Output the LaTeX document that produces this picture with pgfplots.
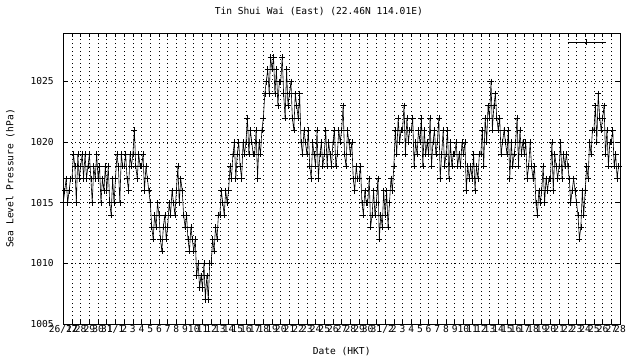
\documentclass[border=0pt]{standalone}
\usepackage{fontspec}
\setmainfont{DejaVu Sans Mono}
\usepackage{pgfplots}
\pgfplotsset{compat=1.18}
\begin{document}
\begin{tikzpicture}[font=\fontsize{9.6}{11}\selectfont]
\path[use as bounding box] (-63.3pt,-36pt) rectangle (576.7pt,324pt);
\begin{axis}[
  at={(0pt,0pt)}, anchor=south west,
  scale only axis, width=556.7pt, height=291pt,
  xmin=0, xmax=64, ymin=1005, ymax=1029,
  xtick={0,...,64},
  xticklabels={26/12,27,28,29,30,31,1/1,2,3,4,5,6,7,8,9,10,11,12,13,14,15,16,17,18,19,20,21,22,23,24,25,26,27,28,29,30,31,1/2,2,3,4,5,6,7,8,9,10,11,12,13,14,15,16,17,18,19,20,21,22,23,24,25,26,27,28},
  ytick={1005,1010,1015,1020,1025},
  yticklabels={1005,1010,1015,1020,1025},
  tick align=inside, major tick length=4pt,
  tick style={black, line width=0.6pt},
  axis line style={black, line width=0.8pt},
  xmajorgrids, ymajorgrids,
  major grid style={black, line width=0.6pt, dash pattern=on 0.8pt off 3.2pt},
  /pgf/number format/assume math mode=true,
  yticklabel style={xshift=-6pt},
  xticklabel style={yshift=0pt, inner sep=1pt},
  title={Tin Shui Wai (East) (22.46N 114.01E)},
  title style={at={(axis description cs:0.459,1.055)}, anchor=center},
  xlabel={Date (HKT)},
  xlabel style={at={(axis description cs:0.5,-0.096)}, anchor=center},
  ylabel={Sea Level Pressure (hPa)},
  ylabel style={at={(axis description cs:-0.095,0.5)}, anchor=center, rotate=0},
  legend style={at={(axis description cs:0.905,0.969)}, anchor=west, draw=none, fill=none, inner sep=0pt, row sep=0pt},
  legend cell align=left,
  legend image code/.code={\draw[black, line width=0.6pt] (0pt,0pt) -- (38pt,0pt); \draw[black, line width=0.6pt] (19pt,-3pt) -- (19pt,3pt);},
]
\addplot[black, line width=0.6pt, mark=+, mark size=3pt, mark options={line width=0.6pt}] coordinates {
(0,1015)(0.17,1016)(0.33,1017)(0.5,1015)(0.67,1016)(0.83,1017)
(1,1017)(1.17,1019)(1.33,1018)(1.5,1015)(1.67,1019)(1.83,1017)
(2,1018)(2.17,1019)(2.33,1017)(2.5,1019)(2.67,1017)(2.83,1018)
(3,1019)(3.17,1017)(3.33,1015)(3.5,1018)(3.67,1017)(3.83,1019)
(4,1017)(4.17,1018)(4.33,1015)(4.5,1017)(4.67,1016)(4.83,1018)
(5,1016)(5.17,1018)(5.33,1015)(5.5,1014)(5.67,1017)(5.83,1015)
(6,1017)(6.17,1019)(6.33,1018)(6.5,1015)(6.67,1019)(6.83,1018)
(7,1018)(7.17,1019)(7.33,1017)(7.5,1016)(7.67,1019)(7.83,1018)
(8,1019)(8.17,1021)(8.33,1018)(8.5,1017)(8.67,1019)(8.83,1018)
(9,1018)(9.17,1019)(9.33,1016)(9.5,1018)(9.67,1017)(9.83,1016)
(10,1015)(10.17,1013)(10.33,1012)(10.5,1014)(10.67,1013)(10.83,1015)
(11,1014)(11.17,1012)(11.33,1011)(11.5,1013)(11.67,1014)(11.83,1012)
(12,1013)(12.17,1015)(12.33,1014)(12.5,1016)(12.67,1015)(12.83,1014)
(13,1016)(13.17,1018)(13.33,1015)(13.5,1017)(13.67,1016)(13.83,1014)
(14,1013)(14.17,1014)(14.33,1012)(14.5,1011)(14.67,1013)(14.83,1012)
(15,1011)(15.17,1012)(15.33,1009)(15.5,1010)(15.67,1008)(15.83,1009)
(16,1008)(16.17,1010)(16.33,1007)(16.5,1009)(16.67,1007)(16.83,1010)
(17,1010)(17.17,1012)(17.33,1011)(17.5,1013)(17.67,1012)(17.83,1014)
(18,1014)(18.17,1016)(18.33,1015)(18.5,1014)(18.67,1016)(18.83,1015)
(19,1016)(19.17,1018)(19.33,1017)(19.5,1019)(19.67,1020)(19.83,1017)
(20,1019)(20.17,1020)(20.33,1018)(20.5,1017)(20.67,1020)(20.83,1019)
(21,1020)(21.17,1022)(21.33,1019)(21.5,1021)(21.67,1020)(21.83,1019)
(22,1019)(22.17,1021)(22.33,1017)(22.5,1020)(22.67,1019)(22.83,1021)
(23,1022)(23.17,1024)(23.33,1025)(23.5,1026)(23.67,1024)(23.83,1027)
(24,1026)(24.17,1027)(24.33,1024)(24.5,1026)(24.67,1023)(24.83,1025)
(25,1025)(25.17,1027)(25.33,1024)(25.5,1022)(25.67,1026)(25.83,1023)
(26,1024)(26.17,1025)(26.33,1022)(26.5,1021)(26.67,1024)(26.83,1023)
(27,1022)(27.17,1024)(27.33,1020)(27.5,1019)(27.67,1021)(27.83,1020)
(28,1019)(28.17,1021)(28.33,1018)(28.5,1017)(28.67,1020)(28.83,1019)
(29,1018)(29.17,1021)(29.33,1017)(29.5,1019)(29.67,1020)(29.83,1018)
(30,1019)(30.17,1021)(30.33,1018)(30.5,1020)(30.67,1019)(30.83,1018)
(31,1020)(31.17,1021)(31.33,1018)(31.5,1019)(31.67,1021)(31.83,1020)
(32,1021)(32.17,1023)(32.33,1019)(32.5,1018)(32.67,1021)(32.83,1020)
(33,1019)(33.17,1020)(33.33,1017)(33.5,1016)(33.67,1018)(33.83,1017)
(34,1017)(34.17,1018)(34.33,1015)(34.5,1014)(34.67,1016)(34.83,1015)
(35,1015)(35.17,1017)(35.33,1013)(35.5,1014)(35.67,1016)(35.83,1014)
(36,1015)(36.17,1017)(36.33,1012)(36.5,1014)(36.67,1013)(36.83,1016)
(37,1014)(37.17,1016)(37.33,1013)(37.5,1015)(37.67,1017)(37.83,1016)
(38,1018)(38.17,1021)(38.33,1019)(38.5,1022)(38.67,1020)(38.83,1021)
(39,1021)(39.17,1023)(39.33,1019)(39.5,1022)(39.67,1020)(39.83,1021)
(40,1021)(40.17,1022)(40.33,1018)(40.5,1020)(40.67,1019)(40.83,1021)
(41,1020)(41.17,1022)(41.33,1018)(41.5,1021)(41.67,1019)(41.83,1020)
(42,1019)(42.17,1022)(42.33,1018)(42.5,1020)(42.67,1021)(42.83,1019)
(43,1020)(43.17,1022)(43.33,1017)(43.5,1019)(43.67,1021)(43.83,1018)
(44,1019)(44.17,1021)(44.33,1017)(44.5,1020)(44.67,1018)(44.83,1019)
(45,1019)(45.17,1020)(45.33,1018)(45.5,1019)(45.67,1018)(45.83,1020)
(46,1019)(46.17,1020)(46.33,1016)(46.5,1018)(46.67,1017)(46.83,1018)
(47,1017)(47.17,1019)(47.33,1016)(47.5,1018)(47.67,1017)(47.83,1019)
(48,1019)(48.17,1021)(48.33,1018)(48.5,1022)(48.67,1020)(48.83,1023)
(49,1022)(49.17,1025)(49.33,1021)(49.5,1023)(49.67,1024)(49.83,1022)
(50,1021)(50.17,1022)(50.33,1019)(50.5,1020)(50.67,1021)(50.83,1020)
(51,1019)(51.17,1021)(51.33,1017)(51.5,1020)(51.67,1018)(51.83,1019)
(52,1020)(52.17,1022)(52.33,1018)(52.5,1021)(52.67,1019)(52.83,1020)
(53,1019)(53.17,1020)(53.33,1017)(53.5,1018)(53.67,1020)(53.83,1018)
(54,1017)(54.17,1018)(54.33,1015)(54.5,1014)(54.67,1016)(54.83,1015)
(55,1016)(55.17,1018)(55.33,1015)(55.5,1017)(55.67,1016)(55.83,1017)
(56,1017)(56.17,1020)(56.33,1016)(56.5,1019)(56.67,1018)(56.83,1017)
(57,1018)(57.17,1020)(57.33,1017)(57.5,1019)(57.67,1018)(57.83,1019)
(58,1018)(58.17,1017)(58.33,1015)(58.5,1016)(58.67,1017)(58.83,1016)
(59,1015)(59.17,1014)(59.33,1012)(59.5,1013)(59.67,1016)(59.83,1014)
(60,1016)(60.17,1018)(60.33,1017)(60.5,1020)(60.67,1019)(60.83,1021)
(61,1021)(61.17,1023)(61.33,1020)(61.5,1024)(61.67,1022)(61.83,1021)
(62,1022)(62.17,1023)(62.33,1019)(62.5,1021)(62.67,1018)(62.83,1020)
(63,1020)(63.17,1021)(63.33,1018)(63.5,1019)(63.67,1017)(63.83,1018)
};
\addlegendentry{}
\end{axis}
\end{tikzpicture}
\end{document}
